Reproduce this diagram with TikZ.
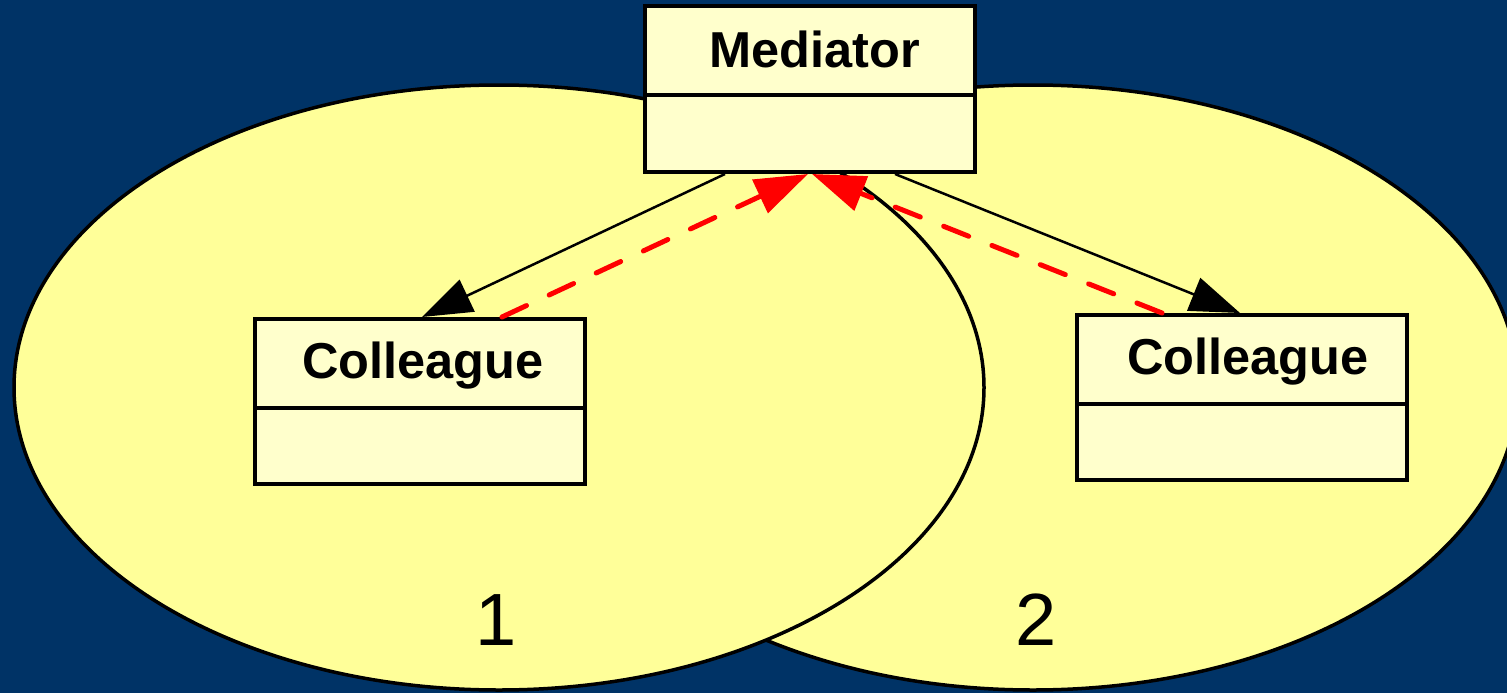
\documentclass[tikz,border=0pt]{standalone}
\usepackage{fontspec}
\setmainfont{Liberation Sans}
\usetikzlibrary{arrows.meta,shapes.geometric}
\definecolor{bgnavy}{HTML}{003366}
\definecolor{setyellow}{HTML}{FFFF99}
\definecolor{classfill}{HTML}{FFFFCC}
\begin{document}
\begin{tikzpicture}[x=1pt,y=-1pt,
  setoval/.style={ellipse,draw=black,fill=setyellow,line width=3.5pt,inner sep=0pt,
    minimum width=970pt,minimum height=605pt},
  classbox/.style={rectangle,draw=black,fill=classfill,line width=4pt,inner sep=0pt,
    minimum width=330pt,minimum height=165pt},
  classname/.style={anchor=base,inner sep=0pt,font=\bfseries\fontsize{50.5}{60}\selectfont},
  setlabel/.style={anchor=base,inner sep=0pt,font=\fontsize{74}{88}\selectfont},
  divider/.style={line width=4pt},
  assoc/.style={line width=2.5pt,-{Triangle[length=50pt,width=35pt]}},
  depend/.style={red,line width=5pt,line cap=round,dash pattern=on 27pt off 25pt,
    -{Triangle[length=53pt,width=36pt]}}]
\useasboundingbox (0,0) rectangle (1507,693);
\fill[bgnavy] (0,0) rectangle (1507,693);
\clip (0,0) rectangle (1507,693);

% the two overlapping sets, the right one lying underneath
\node[setoval] (setB) at (1033,387.5) {};
\node[setoval] (setA) at (499,387.5) {};

% mediator class
\node[classbox,minimum height=166pt] (med) at (810,89) {};
\coordinate (meddiv) at (0,95);
\draw[divider] (med.west |- meddiv) -- (med.east |- meddiv);
\node[classname] (medname) at (815,67) {Mediator};

% colleague classes
\node[classbox] (colA) at (420,401.5) {};
\coordinate (colAdiv) at (0,407.5);
\draw[divider] (colA.west |- colAdiv) -- (colA.east |- colAdiv);
\node[classname] (colAname) at (423,378) {Colleague};

\node[classbox] (colB) at (1242,397.5) {};
\coordinate (colBdiv) at (0,403.5);
\draw[divider] (colB.west |- colBdiv) -- (colB.east |- colBdiv);
\node[classname] (colBname) at (1248,374) {Colleague};

% set labels
\node[setlabel] (lab1) at (496,645) {1};
\node[setlabel] (lab2) at (1036,645) {2};

% associations from the mediator
\draw[assoc] ([xshift=-85pt]med.south) -- ([xshift=2pt]colA.north);
\draw[assoc] ([xshift=85pt]med.south) -- ([xshift=-2pt]colB.north);

% dependencies back to the mediator
\draw[depend] ([xshift=82pt]colA.north) -- ([xshift=-2pt]med.south);
\draw[depend] ([xshift=-80pt]colB.north) -- ([xshift=2pt]med.south);
\end{tikzpicture}
\end{document}
